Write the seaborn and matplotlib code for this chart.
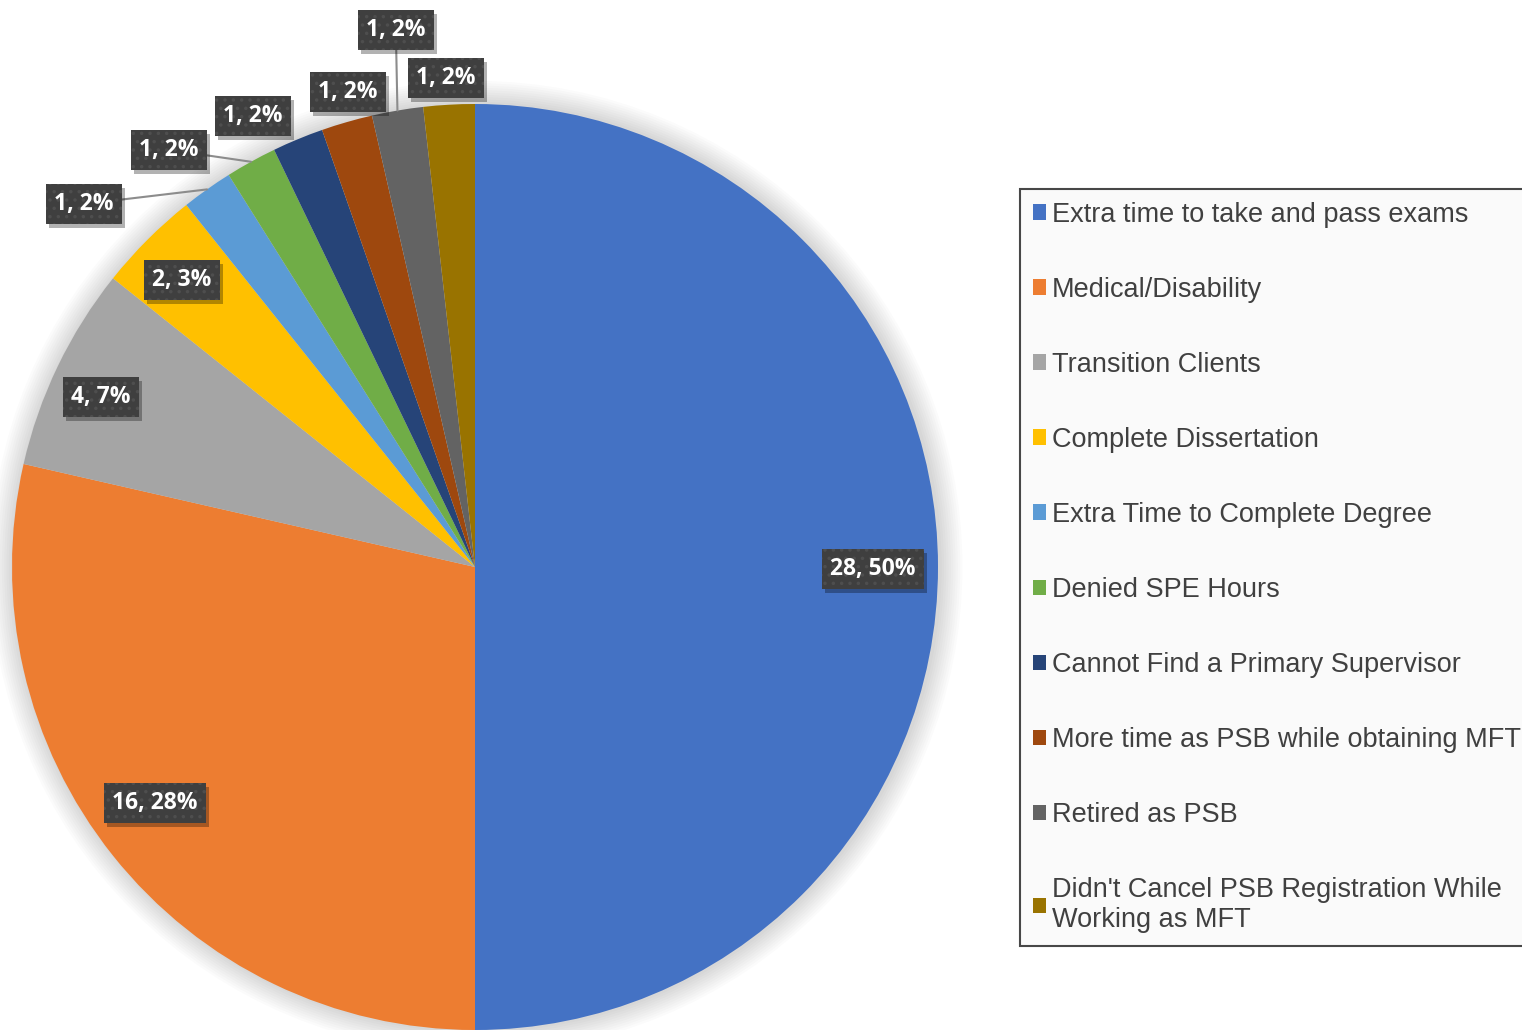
import numpy as np
import matplotlib
matplotlib.use("Agg")
import matplotlib.pyplot as plt
import matplotlib.transforms as mtrans
from matplotlib.patches import Circle, Patch, Rectangle
import seaborn as sns

reasons = [
    "Extra time to take and pass exams",
    "Medical/Disability",
    "Transition Clients",
    "Complete Dissertation",
    "Extra Time to Complete Degree",
    "Denied SPE Hours",
    "Cannot Find a Primary Supervisor",
    "More time as PSB while obtaining MFT",
    "Retired as PSB",
    "Didn't Cancel PSB Registration While\nWorking as MFT",
]
counts = [28, 16, 4, 2, 1, 1, 1, 1, 1, 1]
percents = [50, 28, 7, 3, 2, 2, 2, 2, 2, 2]
colors = ["#4472C4", "#ED7D31", "#A5A5A5", "#FFC000", "#5B9BD5",
          "#70AD47", "#264478", "#9E480E", "#636363", "#997300"]

# where Excel put each data label (axes data units, pie radius = 1)
label_pos = [(0.860, -0.004), (-0.691, -0.510), (-0.808, 0.367), (-0.633, 0.620),
             (-0.844, 0.784), (-0.661, 0.901), (-0.479, 0.974), (-0.274, 1.026),
             (-0.171, 1.160), (-0.063, 1.056)]
leaders = [4, 5, 8]

sns.set_theme(style="white")
plt.rcParams["hatch.linewidth"] = 1.3

fig = plt.figure(figsize=(15.22, 10.30), dpi=100)
W, H = 1522, 1030
cx, cy, r = 475, 567, 463
ax = fig.add_axes([(cx - r) / W, (H - cy - r) / H, 2 * r / W, 2 * r / H])

# soft shadow behind the pie
for k in range(10):
    ax.add_patch(Circle((0.003, 0.0), 1.0 + 0.005 * (k + 1), color="#000000",
                        alpha=0.016, lw=0, zorder=0, clip_on=False))

wedges, _ = ax.pie(counts, colors=colors, startangle=90, counterclock=False,
                   wedgeprops=dict(linewidth=0))
for w in wedges:
    w.set_zorder(1)
ax.set_xlim(-1, 1)
ax.set_ylim(-1, 1)
ax.set_aspect("equal")
ax.axis("off")

labels = []
for i, w in enumerate(wedges):
    lx, ly = label_pos[i]
    if i in leaders:
        mid = np.deg2rad((w.theta1 + w.theta2) / 2)
        ax.plot([lx, np.cos(mid)], [ly, np.sin(mid)], color="#8c8c8c", lw=1.5,
                zorder=2, clip_on=False)
    t = ax.text(lx, ly, f"{counts[i]}, {percents[i]}%", ha="center", va="center",
                color="white", fontsize=16.5, fontweight="bold", family="Open Sans",
                zorder=5, clip_on=False,
                bbox=dict(boxstyle="square,pad=0.36", fc="#3f3f3f", ec="#4e4e4e",
                          lw=0, hatch=".."))
    labels.append(t)

handles = [Patch(facecolor=c, edgecolor="none") for c in colors]
leg = fig.legend(handles, reasons, loc="upper left",
                 bbox_to_anchor=(1020 / W, 1 - 189 / H),
                 frameon=True, fancybox=False, fontsize=19.5,
                 handlelength=0.5, handleheight=0.5, handletextpad=0.2,
                 labelspacing=1.81, borderpad=0.47, borderaxespad=0)
leg.get_frame().set_facecolor("#f9f9f9")
leg.get_frame().set_edgecolor("#1a1a1a")
leg.get_frame().set_linewidth(1.5)
for t in leg.get_texts():
    t.set_color("#404040")
    t.set_family("Liberation Sans")

# drop shadows under the label boxes, sized from the rendered boxes
fig.canvas.draw()
for t in labels:
    bb = t.get_bbox_patch().get_window_extent()
    ax.add_patch(Rectangle((bb.x0 + 3, bb.y0 - 4), bb.width, bb.height,
                           transform=mtrans.IdentityTransform(), fc="black",
                           ec="none", alpha=0.3, zorder=4, clip_on=False))

fig.savefig("out.png", dpi=100)
